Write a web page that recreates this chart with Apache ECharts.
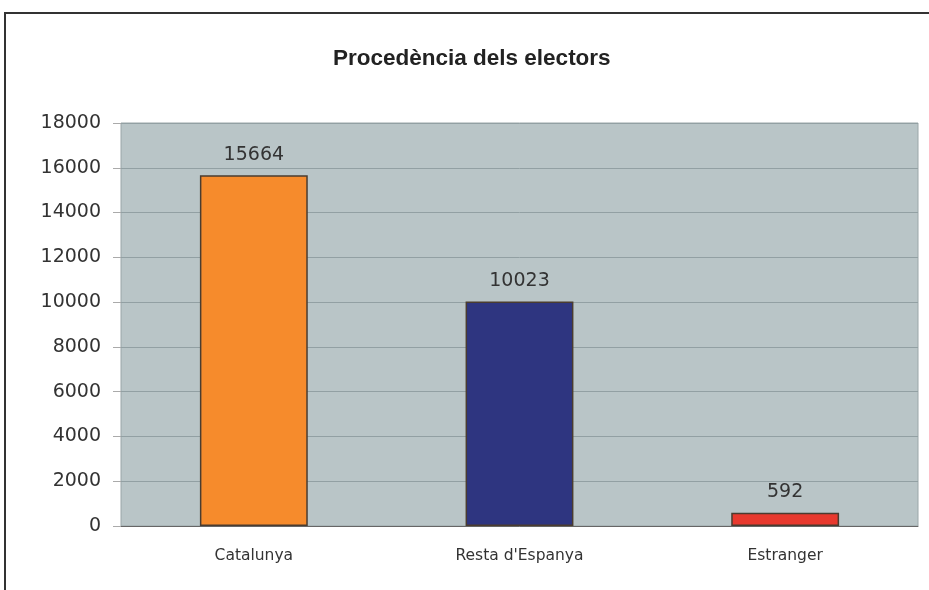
<!DOCTYPE html>
<html><head><meta charset="utf-8">
<script src="https://cdn.jsdelivr.net/npm/echarts@6/dist/echarts.min.js"></script>
<style>html,body{margin:0;padding:0;background:#fff}#c{width:929px;height:590px}</style>
</head><body><div id="c"></div>
<script>
var categories = ['Catalunya', "Resta d'Espanya", 'Estranger'];
var values = [15664, 10023, 592];
var barColors = ['#f68b2c', '#2e3580', '#e8392e'];
var yTicks = [0, 2000, 4000, 6000, 8000, 10000, 12000, 14000, 16000, 18000];

var chart = echarts.init(document.getElementById('c'));
chart.setOption({
  animation: false,
  backgroundColor: '#fff',
  title: {
    text: 'Procedència dels electors',
    left: 328, top: 42,
    textStyle: {fontFamily: 'Liberation Sans, Arial', fontSize: 22.5, fontWeight: 'bold', color: '#222'}
  },
  graphic: [{
    type: 'polyline', silent: true,
    shape: {points: [[5, 590], [5, 13], [929, 13]]},
    style: {stroke: '#333', lineWidth: 2, fill: null}
  }],
  grid: {left: 121, right: 11, top: 123, bottom: 64, show: true, backgroundColor: '#b9c5c7', borderColor: '#9aa6a8', borderWidth: 1},
  xAxis: {
    type: 'category', data: categories,
    axisLine: {lineStyle: {color: '#666', width: 1}},
    axisTick: {show: false},
    axisLabel: {margin: 22, fontFamily: 'DejaVu Sans', fontSize: 15.5, color: '#333'}
  },
  yAxis: {
    type: 'value', min: yTicks[0], max: yTicks[yTicks.length - 1], interval: 2000,
    axisLine: {show: false},
    axisTick: {show: true, length: 8, lineStyle: {color: '#aaa'}},
    axisLabel: {margin: 20, fontFamily: 'DejaVu Sans', fontSize: 19, color: '#333',
      formatter: function (v) { return String(v); }},
    splitLine: {lineStyle: {color: '#92a0a3', width: 1}}
  },
  series: [{
    type: 'bar', barWidth: '40.6%',
    data: values.map(function (v, i) {
      return {value: v, itemStyle: {color: barColors[i]}};
    }),
    itemStyle: {borderColor: '#4a3c30', borderWidth: 1.5},
    label: {show: true, position: 'top', distance: 11, fontFamily: 'DejaVu Sans', fontSize: 19, color: '#333'}
  }]
});
</script></body></html>
